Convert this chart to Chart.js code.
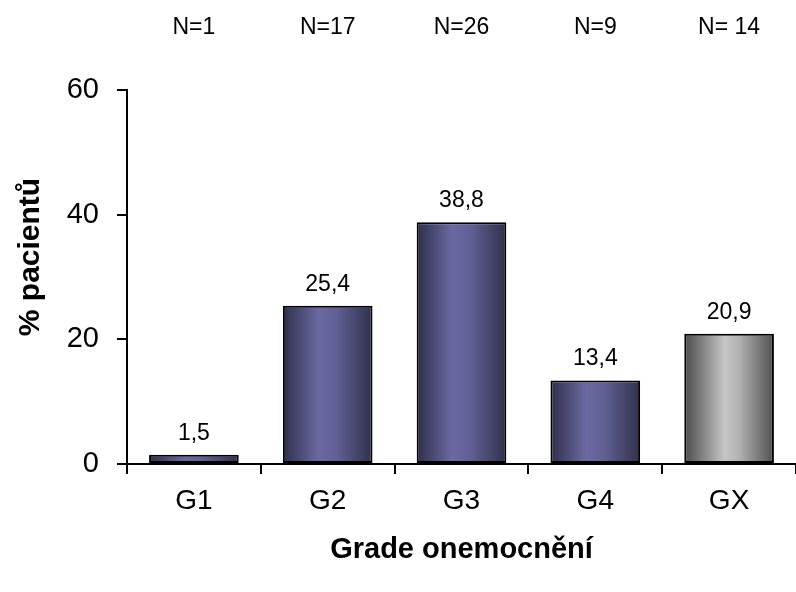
<!DOCTYPE html>
<html>
<head>
<meta charset="utf-8">
<script src="https://cdn.jsdelivr.net/npm/chart.js@4/dist/chart.umd.min.js"></script>
<style>
  html, body { margin: 0; padding: 0; background: #fff; }
  #wrap { width: 796px; height: 592px; position: relative; }
</style>
</head>
<body>
<div id="wrap"><canvas id="c" width="796" height="592"></canvas></div>
<script>
// Share of patients by disease grade
const grades = ['G1', 'G2', 'G3', 'G4', 'GX'];
const percentPatients = [1.5, 25.4, 38.8, 13.4, 20.9];
const countLabels = ['N=1', 'N=17', 'N=26', 'N=9', 'N= 14'];
const yTicks = [0, 20, 40, 60];
const yTitle = '% pacientů';
const xTitle = 'Grade onemocnění';

const FONT = "'Liberation Sans', Arial, sans-serif";

// Cylinder-like horizontal shading for each bar
function barFill(ctx) {
  const chart = ctx.chart;
  const xs = chart.scales && chart.scales.x;
  const i = ctx.dataIndex;
  const isUnknown = grades[i] === 'GX';
  if (!xs || !chart.chartArea) return isUnknown ? '#999999' : '#55558a';
  const slot = (xs.right - xs.left) / grades.length;
  const half = slot * 0.67 / 2;
  const cx = xs.getPixelForValue(i);
  const g = chart.ctx.createLinearGradient(cx - half, 0, cx + half, 0);
  if (isUnknown) {
    g.addColorStop(0, '#4a4a4a');
    g.addColorStop(0.45, '#c6c6c6');
    g.addColorStop(0.6, '#b4b4b4');
    g.addColorStop(1, '#505050');
  } else {
    g.addColorStop(0, '#2f2f4c');
    g.addColorStop(0.4, '#6a6aa2');
    g.addColorStop(0.6, '#606095');
    g.addColorStop(1, '#30304c');
  }
  return g;
}

// Value labels above bars, patient counts along the top, vertical axis title
const annotations = {
  id: 'annotations',
  afterDatasetsDraw(chart) {
    const { ctx } = chart;
    const meta = chart.getDatasetMeta(0);
    const xs = chart.scales.x;
    const ys = chart.scales.y;
    ctx.save();
    ctx.fillStyle = '#000';
    ctx.textAlign = 'center';
    ctx.textBaseline = 'alphabetic';
    ctx.font = '23px ' + FONT;
    meta.data.forEach((bar, i) => {
      const txt = percentPatients[i].toFixed(1).replace('.', ',');
      ctx.fillText(txt, bar.x, bar.y - 15);
    });
    ctx.textBaseline = 'middle';
    countLabels.forEach((t, i) => {
      ctx.fillText(t, xs.getPixelForValue(i), 28);
    });
    // axis title sits a little above the middle of the value axis
    ctx.translate(31, (ys.top + ys.bottom) / 2 - 20);
    ctx.rotate(-Math.PI / 2);
    ctx.font = 'bold 30px ' + FONT;
    ctx.fillText(yTitle, 0, 0);
    ctx.restore();
  }
};

new Chart(document.getElementById('c'), {
  type: 'bar',
  data: {
    labels: grades,
    datasets: [{
      data: percentPatients,
      backgroundColor: barFill,
      borderColor: '#000',
      borderWidth: 2,
      borderSkipped: false,
      categoryPercentage: 1,
      barPercentage: 0.67
    }]
  },
  options: {
    responsive: false,
    animation: false,
    layout: { padding: { top: 90, right: 0, bottom: 0, left: 0 } },
    plugins: { legend: { display: false }, tooltip: { enabled: false } },
    scales: {
      x: {
        afterFit(s) { s.height = 128; },
        grid: { display: true, drawOnChartArea: false, drawTicks: true, tickLength: 10, color: '#000', lineWidth: 2, offset: true },
        border: { display: true, color: '#000', width: 2 },
        ticks: { color: '#000', font: { family: FONT, size: 28 }, padding: 10 },
        title: { display: true, text: xTitle, color: '#000', font: { family: FONT, size: 29, weight: 'bold' }, padding: { top: 0, bottom: 25 } }
      },
      y: {
        min: 0, max: 60,
        afterFit(s) { s.width = 127; },
        afterBuildTicks(s) { s.ticks = yTicks.map(v => ({ value: v })); },
        grid: { display: true, drawOnChartArea: false, drawTicks: true, tickLength: 10, color: '#000', lineWidth: 2 },
        border: { display: true, color: '#000', width: 2 },
        ticks: { color: '#000', font: { family: FONT, size: 29 }, padding: 18 }
      }
    }
  },
  plugins: [annotations]
});
</script>
</body>
</html>
